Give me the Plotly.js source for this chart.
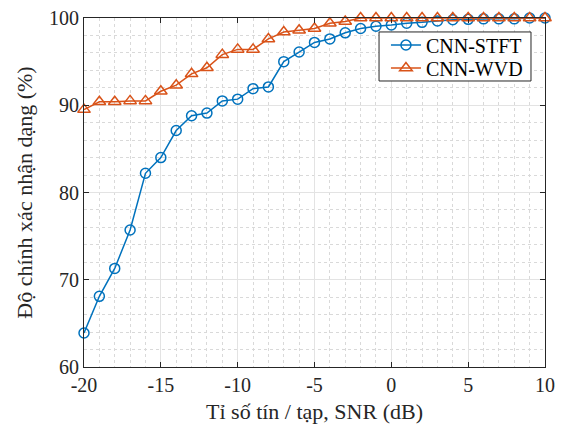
<!DOCTYPE html>
<html>
<head>
<meta charset="utf-8">
<script src="https://cdn.plot.ly/plotly-3.0.1.min.js"></script>
<style>html,body{margin:0;padding:0;background:#fff;}#chart{width:565px;height:428px;}</style>
</head>
<body>
<div id="chart"></div>
<script>
var snr = [-20,-19,-18,-17,-16,-15,-14,-13,-12,-11,-10,-9,-8,-7,-6,-5,-4,-3,-2,-1,0,1,2,3,4,5,6,7,8,9,10];
var cnnStft = [63.9,68.1,71.3,75.7,82.2,84.0,87.1,88.8,89.1,90.5,90.7,91.9,92.1,95.0,96.1,97.2,97.6,98.3,98.8,99.05,99.2,99.4,99.5,99.65,99.8,99.85,99.9,99.9,99.9,100,100];
var cnnWvd = [89.5,90.4,90.4,90.5,90.5,91.6,92.3,93.6,94.3,95.8,96.4,96.4,97.6,98.4,98.6,98.8,99.4,99.6,100,100,100,100,100,100,100,100,100,100,100,100,100];
var seriesNames = ['CNN-STFT','CNN-WVD'];
var xTickVals = [-20,-15,-10,-5,0,5,10];
var xTickText = ['-20','-15','-10','-5','0','5','10'];
var yTickVals = [60,70,80,90,100];
var yTickText = ['60','70','80','90','100'];
var xTitle = 'Tỉ số tín / tạp, SNR (dB)';
var yTitle = 'Độ chính xác nhận dạng (%)';

var font = 'Liberation Serif';
var axisCol = '#262626';
var traces = [
  {x: snr, y: cnnStft, name: seriesNames[0], type: 'scatter', mode: 'lines+markers',
   legend: 'legend',
   line: {color: '#0072BD', width: 1.5},
   marker: {symbol: 'circle-open', size: 10, color: '#0072BD', line: {width: 1.5, color: '#0072BD'}},
   cliponaxis: false},
  {x: snr, y: cnnWvd, name: seriesNames[1], type: 'scatter', mode: 'lines+markers',
   legend: 'legend2',
   line: {color: '#D95319', width: 1.5},
   marker: {symbol: 'triangle-up-open', size: 11, color: '#D95319', line: {width: 1.5, color: '#D95319'}},
   cliponaxis: false}
];
function axisBase() {
  return {
    showline: true, linecolor: axisCol, linewidth: 1, mirror: 'ticks',
    ticks: 'inside', ticklen: 5, tickcolor: axisCol, tickwidth: 1,
    showgrid: true, gridcolor: '#e3e3e3', gridwidth: 1,
    zeroline: false,
    tickfont: {family: font, size: 20, color: axisCol}
  };
}
var xa = axisBase();
xa.range = [-20, 10]; xa.tickmode = 'array'; xa.tickvals = xTickVals; xa.ticktext = xTickText;
xa.minor = {dtick: 1, tick0: -20, showgrid: true, griddash: 'dot', gridcolor: '#d9d9d9', gridwidth: 1, ticks: ''};
xa.title = {text: xTitle, font: {family: font, size: 22, color: axisCol}, standoff: 8};
var ya = axisBase();
ya.range = [60, 100]; ya.tickmode = 'array'; ya.tickvals = yTickVals; ya.ticktext = yTickText;
ya.minor = {dtick: 2, tick0: 60, showgrid: true, griddash: 'dot', gridcolor: '#d9d9d9', gridwidth: 1, ticks: ''};
ya.title = {text: yTitle, font: {family: font, size: 22, color: axisCol}, standoff: 10};

function legendAt(yc) {
  return {x: 0.655, y: yc, xanchor: 'left', yanchor: 'middle',
    bgcolor: 'rgba(0,0,0,0)', borderwidth: 0,
    font: {family: font, size: 20, color: '#000'}};
}
var layout = {
  width: 565, height: 428,
  margin: {l: 84, r: 20, t: 18, b: 61},
  paper_bgcolor: '#fff', plot_bgcolor: '#fff',
  font: {family: font, size: 20, color: axisCol},
  showlegend: true,
  legend: legendAt(0.9226),
  legend2: legendAt(0.8567),
  shapes: [{type: 'rect', xref: 'paper', yref: 'paper', x0: 0.64, x1: 0.9696, y0: 0.8195, y1: 0.96,
            fillcolor: '#fff', line: {color: axisCol, width: 1}, layer: 'above'}],
  xaxis: xa,
  yaxis: ya
};
Plotly.newPlot('chart', traces, layout, {displayModeBar: false, staticPlot: true});
</script>
</body>
</html>
